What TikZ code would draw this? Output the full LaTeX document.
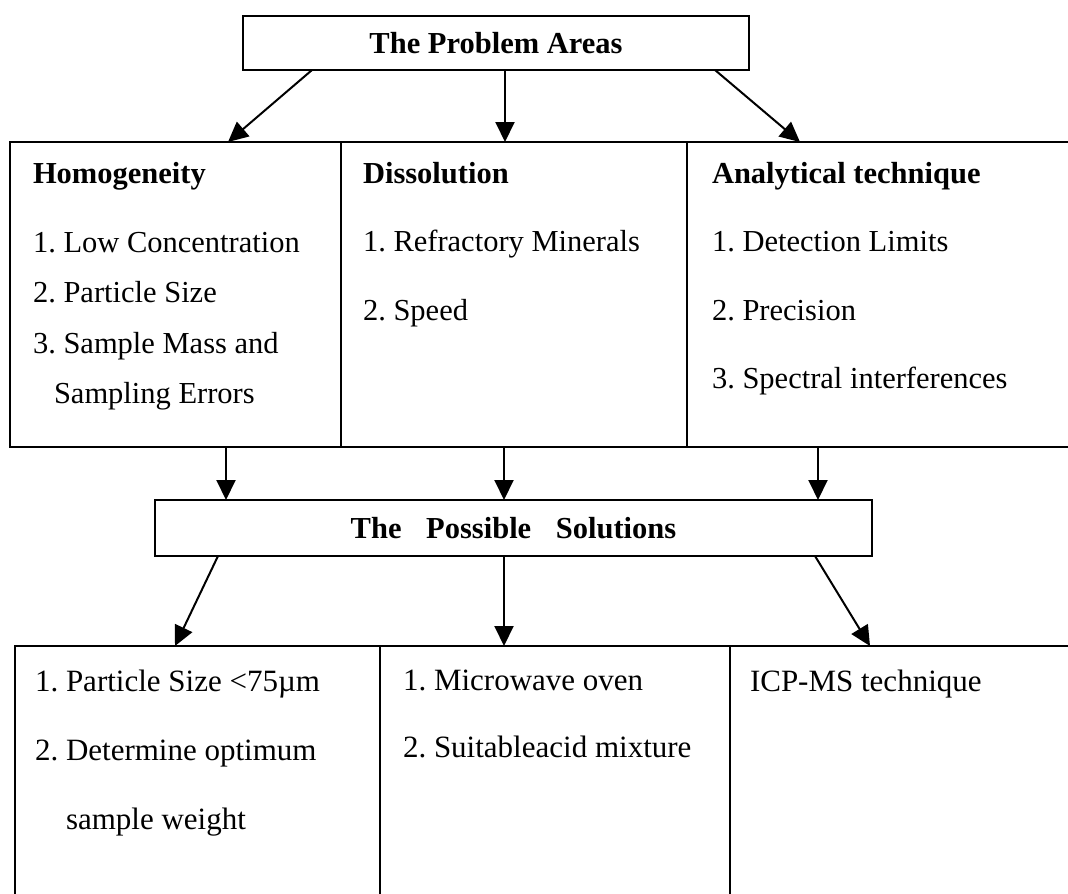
\documentclass[tikz,border=0pt]{standalone}
\usepackage{fontspec}
\setmainfont{Liberation Serif}
\usetikzlibrary{positioning,calc,arrows.meta}
\frenchspacing

\begin{document}
\begin{tikzpicture}[x=1pt,y=-1pt,>={Triangle[length=20pt,width=19pt]},line width=2pt,
    box/.style={draw,rectangle,inner sep=0pt,outer sep=0pt},
    head node/.style={box,font=\bfseries\fontsize{30.5}{36}\selectfont},
    list node/.style={anchor=north west,inner sep=0pt,align=left,font=\fontsize{30.5}{68.5}\selectfont}]
  \useasboundingbox (0,0) rectangle (1068,894);

  % problem areas
  \node[head node,minimum width=506pt,minimum height=54pt] (problems) at (496,43) {The Problem Areas};
  \node[box,minimum width=331pt,minimum height=305pt] (homog) at (175.5,294.5) {};
  \node[box,minimum width=346pt,minimum height=305pt,right=0pt of homog] (dissol) {};
  \node[box,minimum width=393pt,minimum height=305pt,right=0pt of dissol] (analyt) {};

  \node[list node,font=\fontsize{30.5}{50.5}\selectfont] (homog text) at (32,161)
    {\textbf{Homogeneity}\\[18.5pt] 1. Low Concentration\\ 2. Particle Size\\ 3. Sample Mass and\\ \hspace*{21pt}Sampling Errors};
  \node[list node] (dissol text) at (362,161) {\textbf{Dissolution}\\ 1. Refractory Minerals\\ 2. Speed};
  \node[list node] (analyt text) at (711,161) {\textbf{Analytical technique}\\ 1. Detection Limits\\ 2. Precision\\ 3. Spectral interferences};

  % possible solutions
  \node[head node,minimum width=717pt,minimum height=56pt] (solutions) at (513.5,528)
    {The\hspace{17pt} Possible\hspace{17pt} Solutions};
  \node[box,minimum width=365pt,minimum height=259pt] (sizing) at (197.5,775.5) {};
  \node[box,minimum width=350pt,minimum height=259pt,right=0pt of sizing] (digest) {};
  \node[box,minimum width=350pt,minimum height=259pt,right=0pt of digest] (icpms) {};

  \node[list node,font=\fontsize{31}{69}\selectfont] (sizing text) at (34,669)
    {1. Particle Size <75µm\\ 2. Determine optimum\\ \hspace*{31pt}sample weight};
  \node[list node,font=\fontsize{31}{67}\selectfont] (digest text) at (402,669)
    {1. Microwave oven\\ 2. Suitableacid mixture};
  \node[list node,font=\fontsize{31}{69}\selectfont] (icpms text) at (749,669) {ICP-MS technique};

  \path[->]
    ($(problems.south west)+(69,0)$) edge ($(homog.north west)+(218,0)$)
    ($(problems.south west)+(262,0)$) edge ($(dissol.north west)+(164,0)$)
    ($(problems.south west)+(472,0)$) edge ($(analyt.north west)+(113,0)$)
    ($(homog.south west)+(216,0)$) edge ($(solutions.north west)+(71,0)$)
    ($(dissol.south west)+(163,0)$) edge ($(solutions.north west)+(349,0)$)
    ($(analyt.south west)+(131,0)$) edge ($(solutions.north west)+(663,0)$)
    ($(solutions.south west)+(63,0)$) edge ($(sizing.north west)+(160,0)$)
    ($(solutions.south west)+(349,0)$) edge ($(digest.north west)+(124,0)$)
    ($(solutions.south west)+(660,0)$) edge ($(icpms.north west)+(140,0)$)
    ;
\end{tikzpicture}
\end{document}
